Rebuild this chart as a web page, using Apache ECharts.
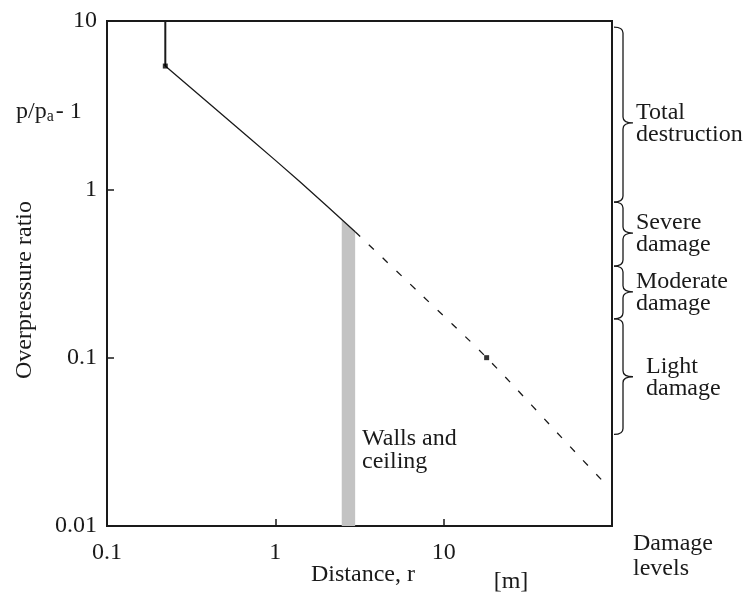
<!DOCTYPE html>
<html>
<head>
<meta charset="utf-8">
<script src="https://cdn.jsdelivr.net/npm/echarts@6/dist/echarts.min.js"></script>
<style>
  html, body { margin: 0; padding: 0; background: #fff; }
  #chart { width: 750px; height: 597px; }
</style>
</head>
<body>
<div id="chart"></div>
<script>
// Blast overpressure ratio versus distance (log-log), with damage levels.
const xTicks = [0.1, 1, 10];
const yTicks = [0.01, 0.1, 1, 10];

// Vertical cap of the curve near the source
const capLine = [[0.222, 10], [0.222, 5.4]];
// Measured part of the curve (solid)
const solidCurve = [[0.222, 5.4], [0.71, 2.0], [1.4, 1.11], [2.98, 0.56]];
// Extrapolated part of the curve (dashed)
const dashedCurve = [[2.98, 0.56], [7.07, 0.246], [18, 0.1], [61.5, 0.027], [91.9, 0.0177]];
// Marked points
const markedPoints = [[0.222, 5.4], [18, 0.1]];
// Walls-and-ceiling band: r from, r to, top at r from, top at r to
const wallBand = [[2.48, 2.98, 0.655, 0.56]];
// Damage level ranges of overpressure ratio: upper, lower, brace tip
const damageNames = [['Total', 'destruction'], ['Severe', 'damage'], ['Moderate', 'damage'], ['Light', 'damage']];
const damageRanges = [[9.2, 0.84, 2.48], [0.84, 0.35, 0.55], [0.35, 0.17, 0.246], [0.17, 0.035, 0.077]];

const FONT = 'Liberation Serif, Times New Roman, serif';
const INK = '#1a1a1a';

const chart = echarts.init(document.getElementById('chart'));

function braceItem(params, api) {
  const top = api.coord([100, api.value(0)]);
  const bot = api.coord([100, api.value(1)]);
  const tip = api.coord([100, api.value(2)]);
  const x0 = top[0] + 2, xc = top[0] + 11, xt = top[0] + 21;
  const yt = top[1], yb = bot[1], ym = tip[1];
  const r = 6;
  const path = 'M' + x0 + ',' + yt + ' Q' + xc + ',' + yt + ' ' + xc + ',' + (yt + r) +
    ' L' + xc + ',' + (ym - r) + ' Q' + xc + ',' + ym + ' ' + xt + ',' + ym +
    ' Q' + xc + ',' + ym + ' ' + xc + ',' + (ym + r) +
    ' L' + xc + ',' + (yb - r) + ' Q' + xc + ',' + yb + ' ' + x0 + ',' + yb;
  const lines = damageNames[params.dataIndex];
  const indent = params.dataIndex === 3 ? 34 : 24;
  return {
    type: 'group',
    children: [
      { type: 'path', shape: { pathData: path }, style: { stroke: INK, lineWidth: 1.3, fill: null } },
      { type: 'text', style: { text: lines.join('\n'), x: top[0] + indent, y: ym + 1,
        font: '24px ' + FONT, fill: INK, verticalAlign: 'middle', align: 'left', lineHeight: 22 } }
    ]
  };
}

function bandItem(params, api) {
  const a = api.coord([api.value(0), api.value(2)]);
  const b = api.coord([api.value(1), api.value(3)]);
  const c = api.coord([api.value(1), 0.01]);
  const d = api.coord([api.value(0), 0.01]);
  return { type: 'polygon', shape: { points: [a, b, c, d] }, style: { fill: '#c3c3c3' } };
}

chart.setOption({
  animation: false,
  grid: { left: 107, right: 138, top: 21, bottom: 71, show: true, borderColor: INK, borderWidth: 2 },
  xAxis: {
    type: 'log', logBase: 10, min: 0.1, max: 100,
    axisLine: { lineStyle: { color: INK, width: 2 } },
    axisTick: { inside: true, length: 7, lineStyle: { color: INK, width: 1.5 } },
    minorTick: { show: false }, splitLine: { show: false },
    axisLabel: { margin: 15, fontSize: 24, fontFamily: FONT, color: INK,
      formatter: v => xTicks.some(t => Math.abs(t - v) < 1e-9) ? String(v) : '' }
  },
  yAxis: {
    type: 'log', logBase: 10, min: 0.01, max: 10,
    axisLine: { lineStyle: { color: INK, width: 2 } },
    axisTick: { inside: true, length: 7, lineStyle: { color: INK, width: 1.5 } },
    minorTick: { show: false }, splitLine: { show: false },
    axisLabel: { margin: 10, fontSize: 24, fontFamily: FONT, color: INK,
      formatter: v => yTicks.some(t => Math.abs(t - v) < 1e-9) ? String(v) : '' }
  },
  series: [
    { type: 'custom', renderItem: bandItem, data: wallBand, encode: { x: [0, 1], y: [2, 3] }, z: 1 },
    { type: 'line', data: capLine, symbol: 'none', lineStyle: { color: INK, width: 2 }, z: 3 },
    { type: 'line', data: solidCurve, symbol: 'none', smooth: 0.2, lineStyle: { color: INK, width: 1.3 }, z: 3 },
    { type: 'line', data: dashedCurve, symbol: 'none', smooth: 0.3,
      lineStyle: { color: INK, width: 1.3, type: [7, 12] }, z: 3 },
    { type: 'scatter', data: markedPoints, symbol: 'rect', symbolSize: 5, itemStyle: { color: '#000' }, z: 4 },
    { type: 'custom', renderItem: braceItem, data: damageRanges, clip: false,
      encode: { x: 0, y: [0, 1] }, z: 2 }
  ],
  graphic: [
    { type: 'text', left: 16, top: 100, style: {
        text: '{m|p/p}{s|a}{m|- 1}', font: '24px ' + FONT, fill: INK,
        rich: { m: { fontSize: 24, fontFamily: FONT, fill: INK },
                s: { fontSize: 16, fontFamily: FONT, fill: INK, verticalAlign: 'bottom', padding: [10, 2, 0, 0] } } } },
    { type: 'text', x: 25, y: 290, rotation: Math.PI / 2, style: {
        text: 'Overpressure ratio', font: '24px ' + FONT, fill: INK, align: 'center', verticalAlign: 'middle' } },
    { type: 'text', x: 311, y: 575, style: {
        text: 'Distance, r', font: '24px ' + FONT, fill: INK, align: 'left', verticalAlign: 'middle' } },
    { type: 'text', x: 511, y: 582, style: {
        text: '[m]', font: '24px ' + FONT, fill: INK, align: 'center', verticalAlign: 'middle' } },
    { type: 'text', x: 633, y: 556, style: {
        text: 'Damage\nlevels', font: '24px ' + FONT, fill: INK, align: 'left', verticalAlign: 'middle', lineHeight: 25 } },
    { type: 'text', x: 362, y: 450, style: {
        text: 'Walls and\nceiling', font: '24px ' + FONT, fill: INK, align: 'left', verticalAlign: 'middle', lineHeight: 23 } }
  ]
});
</script>
</body>
</html>
